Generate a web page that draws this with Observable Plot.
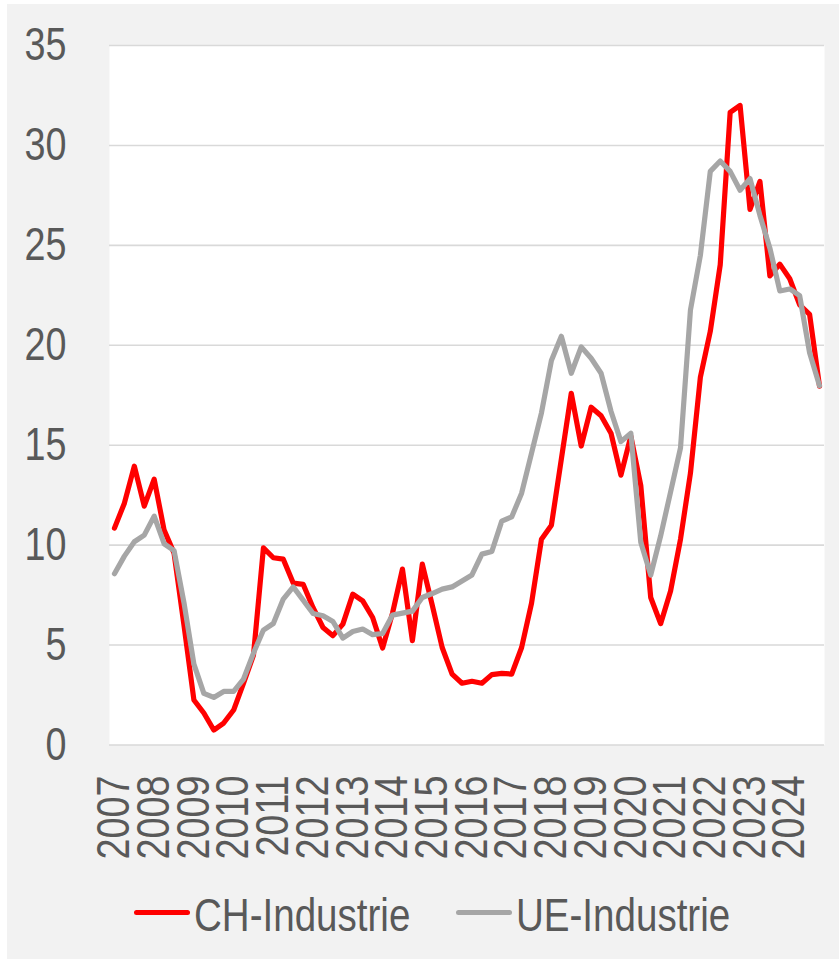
<!DOCTYPE html>
<html>
<head>
<meta charset="utf-8">
<script src="https://cdn.jsdelivr.net/npm/d3@7"></script>
<script src="https://cdn.jsdelivr.net/npm/@observablehq/plot@0.6"></script>
<style>
  html, body { margin: 0; padding: 0; background: #ffffff; }
  #wrap { position: absolute; left: 7px; top: 4px; width: 832px; height: 955px; background: #f2f2f2; overflow: hidden; }
  #chart { position: absolute; left: -7px; top: -4px; }
  .leg { position: absolute; font-family: "Liberation Sans", Arial, sans-serif; font-size: 47px; color: #595959; line-height: 1; white-space: nowrap; transform: scaleX(0.82); transform-origin: 0 0; }
  .sw { position: absolute; height: 5px; border-radius: 3px; }
</style>
</head>
<body>
<div id="wrap">
  <div id="chart"></div>
  <div class="sw" style="left:127px; top:906px; width:56px; background:#ff0000;"></div>
  <div class="leg" style="left:187px; top:887px;">CH-Industrie</div>
  <div class="sw" style="left:449px; top:906px; width:56px; background:#a6a6a6;"></div>
  <div class="leg" style="left:509px; top:887px;">UE-Industrie</div>
</div>
<script>
// Year labels (first quarter of each year)
const years = ["2007","2008","2009","2010","2011","2012","2013","2014","2015","2016","2017","2018","2019","2020","2021","2022","2023","2024"];

// Quarterly values 2007Q1 .. 2024Q4
const chIndustrie = [
  10.85, 12.1, 13.95, 11.95, 13.3, 10.75, 9.6, 6.0,
  2.25, 1.6, 0.75, 1.1, 1.75, 3.1, 4.5, 9.86,
  9.37, 9.3, 8.1, 8.04, 6.87, 5.88, 5.47, 6.05,
  7.55, 7.21, 6.38, 4.85, 6.6, 8.8, 5.22, 9.05,
  7.0, 4.88, 3.55, 3.09, 3.19, 3.09, 3.52, 3.58,
  3.55, 4.88, 7.1, 10.3, 11.0, 14.3, 17.6, 14.96,
  16.9, 16.47, 15.6, 13.5, 15.45, 12.98, 7.38, 6.07,
  7.7, 10.3, 13.6, 18.4, 20.7, 24.03, 31.65, 32.0,
  26.8, 28.2, 23.47, 24.06, 23.33, 22.02, 21.55, 17.95
];
const ueIndustrie = [
  8.57, 9.45, 10.17, 10.5, 11.45, 10.07, 9.73, 7.12,
  4.05, 2.58, 2.38, 2.68, 2.68, 3.3, 4.6, 5.75,
  6.08, 7.3, 7.91, 7.25, 6.58, 6.47, 6.18, 5.35,
  5.68, 5.8, 5.52, 5.58, 6.5, 6.6, 6.7, 7.38,
  7.58, 7.8, 7.91, 8.21, 8.51, 9.55, 9.68, 11.2,
  11.41, 12.6, 14.6, 16.62, 19.24, 20.45, 18.6, 19.92,
  19.35, 18.6, 16.7, 15.18, 15.6, 10.15, 8.5, 10.46,
  12.66, 14.87, 21.76, 24.5, 28.7, 29.22, 28.7, 27.76,
  28.34, 26.5, 24.86, 22.72, 22.82, 22.48, 19.63, 17.98
];
const yTicks = [0, 5, 10, 15, 20, 25, 30, 35];

const chRows = chIndustrie.map((v, i) => ({i, v}));
const ueRows = ueIndustrie.map((v, i) => ({i, v}));
const yearRows = years.map((y, k) => ({i: k * 4, label: y}));

const font = '"Liberation Sans", Arial, sans-serif';

const chart = Plot.plot({
  width: 839,
  height: 870,
  marginLeft: 109,
  marginRight: 15,
  marginTop: 45,
  marginBottom: 125.5,
  style: {background: "transparent", color: "#595959", fontFamily: font, overflow: "visible"},
  x: {domain: [-0.5, chIndustrie.length - 0.5], axis: null},
  y: {domain: [0, 35], axis: null},
  marks: [
    Plot.frame({fill: "white", stroke: null}),
    Plot.gridY(yTicks, {stroke: "#d9d9d9", strokeOpacity: 1, strokeWidth: 1.6}),
    Plot.axisY(yTicks, {tickSize: 0, tickPadding: 43, fontSize: 46, label: null, tickFormat: d => String(d)}),
    Plot.text(yearRows, {x: "i", y: () => 0, text: "label", rotate: -90, textAnchor: "end", lineAnchor: "middle", dy: 30.5, fontSize: 46, fill: "#595959"}),
    Plot.line(chRows, {x: "i", y: "v", stroke: "#ff0000", strokeWidth: 5.2, strokeLinejoin: "round", strokeLinecap: "round"}),
    Plot.line(ueRows, {x: "i", y: "v", stroke: "#a6a6a6", strokeWidth: 5.2, strokeLinejoin: "round", strokeLinecap: "round"})
  ]
});
document.getElementById("chart").appendChild(chart);

// Condense the text like a narrow typeface
chart.querySelectorAll("text").forEach(el => {
  const len = el.getComputedTextLength();
  if (len > 0) {
    el.setAttribute("textLength", (len * 0.82).toFixed(2));
    el.setAttribute("lengthAdjust", "spacingAndGlyphs");
  }
});
</script>
</body>
</html>
